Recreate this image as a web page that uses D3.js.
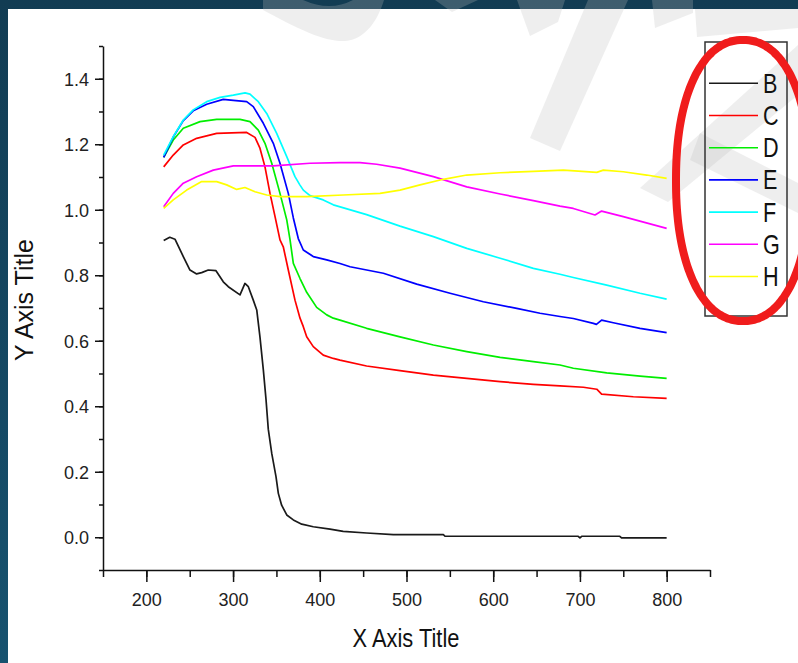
<!DOCTYPE html>
<html><head><meta charset="utf-8">
<script src="https://cdn.jsdelivr.net/npm/d3@7"></script>
<style>html,body{margin:0;padding:0;background:#fff;overflow:hidden} svg{display:block}</style>
</head><body>
<svg id="chart" width="798" height="663"></svg>
<script>
// ---------- data ----------
const seriesNames = ["B", "C", "D", "E", "F", "G", "H"];
const seriesColors = ["#1a1a1a", "#ff0000", "#00ee00", "#0000ff", "#00ffff", "#ff00ff", "#ffff00"];
const xTickValues = [200, 300, 400, 500, 600, 700, 800];
const yTickValues = [0.0, 0.2, 0.4, 0.6, 0.8, 1.0, 1.2, 1.4];
const xAxisTitle = "X Axis Title";
const yAxisTitle = "Y Axis Title";

const B = [[220,0.906],[227,0.916],[233,0.91],[242.6,0.857],[250.3,0.816],[258,0.804],[263.8,0.808],[271.4,0.816],[280.3,0.814],[288.7,0.78],[294.5,0.765],[308,0.74],[313.7,0.775],[317.6,0.765],[323.3,0.724],[327.3,0.694],[331,0.612],[334.9,0.511],[338,0.42],[340.6,0.33],[344.6,0.256],[349.5,0.185],[352.2,0.134],[356,0.098],[361.9,0.068],[369.5,0.053],[379.2,0.04],[392.5,0.032],[411.8,0.025],[427,0.018],[454,0.013],[484.8,0.008],[542.5,0.008],[544.4,0.003],[698,0.003],[700,-0.002],[702,0.003],[746,0.003],[748,-0.002],[800,-0.002]];
const C = [[220,1.131],[231,1.167],[242.6,1.198],[258,1.218],[281.1,1.233],[315.7,1.236],[325.3,1.221],[331,1.188],[336.8,1.131],[342.6,1.05],[348.4,0.979],[354.1,0.908],[357.9,0.887],[363.7,0.816],[371.4,0.724],[377.2,0.669],[381,0.643],[384.9,0.612],[392.5,0.582],[404,0.556],[415.6,0.546],[423.3,0.541],[454,0.523],[492.5,0.509],[531,0.495],[569.5,0.485],[608,0.475],[646.3,0.467],[677,0.462],[704,0.458],[719.4,0.452],[725,0.437],[761.6,0.429],[800,0.424]];
const D = [[220,1.16],[231,1.213],[242.6,1.249],[261.9,1.269],[281.1,1.276],[308,1.276],[319.5,1.269],[329.1,1.243],[336.8,1.203],[344.6,1.142],[354.1,1.05],[361.9,0.969],[365.7,0.908],[369.5,0.836],[377.2,0.79],[384.9,0.748],[396.4,0.702],[408,0.679],[415.6,0.669],[423.3,0.663],[454,0.638],[492.5,0.612],[531,0.587],[569.5,0.567],[608,0.549],[646.3,0.536],[677,0.526],[692.4,0.516],[730.9,0.502],[769.3,0.492],[800,0.485]];
const E = [[220,1.16],[231,1.222],[242.6,1.272],[254,1.302],[269.6,1.322],[288.7,1.337],[300.3,1.334],[315.7,1.33],[323.3,1.315],[334.9,1.264],[346.4,1.203],[354.1,1.142],[363.7,1.05],[369.5,0.975],[375.2,0.912],[381,0.877],[392.5,0.857],[408,0.847],[423.3,0.836],[434.9,0.826],[473.3,0.806],[511.8,0.773],[550.2,0.745],[588.6,0.719],[627.1,0.699],[654,0.684],[677,0.674],[692.4,0.668],[715.5,0.653],[719,0.65],[725,0.663],[738.5,0.655],[769.3,0.638],[800,0.625]];
const F = [[220,1.167],[231,1.223],[242.6,1.274],[254,1.305],[269.6,1.33],[285,1.343],[300.3,1.35],[313.8,1.357],[319.5,1.353],[329.1,1.33],[338.8,1.294],[350.3,1.233],[361.9,1.162],[371.4,1.101],[377,1.076],[381,1.06],[388.7,1.043],[404,1.03],[415.6,1.015],[454,0.985],[492.5,0.95],[531,0.918],[569.5,0.882],[608,0.852],[646.3,0.821],[677,0.803],[692.4,0.793],[730.9,0.77],[769.3,0.745],[800,0.727]];
const G = [[220,1.009],[231,1.05],[242.6,1.081],[258,1.101],[277.2,1.121],[300.3,1.134],[346.4,1.134],[388.7,1.142],[423.3,1.144],[446.4,1.144],[465.6,1.139],[492.5,1.127],[531,1.101],[569.5,1.07],[608,1.048],[646.3,1.028],[677,1.011],[692.4,1.004],[717.4,0.984],[725,0.996],[750,0.979],[800,0.943]];
const H = [[220,1.004],[231,1.03],[246.5,1.06],[263.8,1.086],[281.1,1.086],[292.6,1.076],[304.2,1.062],[313.7,1.068],[325.3,1.055],[338.8,1.045],[354.1,1.04],[384.9,1.04],[427,1.045],[469.5,1.05],[492.5,1.06],[515.6,1.076],[542.5,1.093],[569.5,1.106],[608,1.113],[646.3,1.117],[680.9,1.121],[719.4,1.114],[727,1.121],[750,1.116],[777,1.106],[800,1.096]];
const seriesData = [B, C, D, E, F, G, H];

// ---------- drawing ----------
const svg = d3.select("#chart");
const font = "'Liberation Sans', Arial, sans-serif";

// background frame
const defs = svg.append("defs");
const grad = defs.append("linearGradient").attr("id", "bg").attr("x1", 0).attr("y1", 0).attr("x2", 0).attr("y2", 1);
grad.append("stop").attr("offset", "0%").attr("stop-color", "#123c53");
grad.append("stop").attr("offset", "100%").attr("stop-color", "#17526f");
svg.append("rect").attr("width", 798).attr("height", 663).attr("fill", "url(#bg)");
svg.append("rect").attr("x", 8).attr("y", 9).attr("width", 790).attr("height", 654).attr("fill", "#ffffff");

// faint watermark shapes
const wm = svg.append("g").attr("fill", "rgb(189,189,189)").attr("fill-opacity", 0.26);
[
  "M263,0 L263,10 C300,30 325,42 345,41 C365,40 378,20 384,0 L353,0 Q330,12 303,0 Z",
  "M435,0 L452,12 L478,0 Z",
  "M517,0 L565,0 L558,22 L530,36 Z",
  "M588,0 L628,0 L560,151 L530,138 Z",
  "M652,0 L693,0 L693,13 L655,28 Z",
  "M695,9 L798,9 L798,28 L697,37 Z",
  "M640,188 L668,202 L798,95 L798,45 Z",
  "M700,133 L798,183 L798,213 L690,160 Z"
].forEach(d => wm.append("path").attr("d", d));

const x = d3.scaleLinear().domain([150, 850]).range([103, 710]);
const y = d3.scaleLinear().domain([-0.1, 1.5]).range([570, 46]);

// minor ticks
const xMinor = svg.append("g").attr("transform", "translate(0,570)")
  .call(d3.axisBottom(x).tickValues(d3.range(150, 851, 50)).tickSize(7).tickSizeOuter(0).tickFormat(""));
xMinor.select(".domain").remove();
const yMinor = svg.append("g").attr("transform", "translate(103,0)")
  .call(d3.axisLeft(y).tickValues(d3.range(-1, 16).map(v => v / 10)).tickSize(4).tickSizeOuter(0).tickFormat(""));
yMinor.select(".domain").remove();

// major axes
const xAxis = svg.append("g").attr("transform", "translate(0,570)")
  .call(d3.axisBottom(x).tickValues(xTickValues).tickSize(12).tickSizeOuter(0).tickFormat(d3.format("d")));
const yAxis = svg.append("g").attr("transform", "translate(103,0)")
  .call(d3.axisLeft(y).tickValues(yTickValues).tickSize(8).tickSizeOuter(0).tickFormat(d3.format(".1f")));

[xMinor, yMinor, xAxis, yAxis].forEach(g => {
  g.selectAll("line").attr("stroke", "#111").attr("stroke-width", 1.5);
  g.selectAll(".domain").attr("stroke", "#111").attr("stroke-width", 1.5);
});
xAxis.selectAll("text").attr("font-family", font).attr("font-size", 18).attr("fill", "#222")
  .attr("y", 23).attr("dy", "0.71em");
yAxis.selectAll("text").attr("font-family", font).attr("font-size", 18).attr("fill", "#222")
  .attr("x", -14).attr("dy", "0.35em");

// axis titles
svg.append("text").attr("transform", "translate(406,647) scale(0.84,1)")
  .attr("text-anchor", "middle").attr("font-family", font).attr("font-size", 26).attr("fill", "#111")
  .text(xAxisTitle);
svg.append("text").attr("transform", "translate(33,300) rotate(-90)")
  .attr("text-anchor", "middle").attr("font-family", font).attr("font-size", 25).attr("fill", "#111")
  .text(yAxisTitle);

// series lines
const line = d3.line().x(d => x(d[0])).y(d => y(d[1]));
const plot = svg.append("g").attr("fill", "none").attr("stroke-width", 1.7).attr("stroke-linejoin", "round");
seriesData.forEach((s, i) => {
  plot.append("path").attr("d", line(s)).attr("stroke", seriesColors[i]);
});

// legend
const legend = svg.append("g");
legend.append("rect").attr("x", 705).attr("y", 42).attr("width", 82).attr("height", 274)
  .attr("fill", "none").attr("stroke", "#333").attr("stroke-width", 1.5);
seriesNames.forEach((name, i) => {
  const ly = 83.3 + i * 32.2;
  legend.append("line").attr("x1", 709).attr("x2", 758).attr("y1", ly).attr("y2", ly)
    .attr("stroke", seriesColors[i]).attr("stroke-width", 1.6);
  legend.append("text").attr("transform", `translate(763,${ly + 9.5}) scale(0.8,1)`)
    .attr("font-family", font).attr("font-size", 27).attr("fill", "#111").text(name);
});

// red highlight ellipse (partly beyond the right edge)
const cx = 743, cy = 180.5, ra = 67, rb = 140.5, n = 2.2;
const pts = d3.range(0, 360, 2).map(deg => {
  const t = deg * Math.PI / 180, c = Math.cos(t), s = Math.sin(t);
  return [cx + ra * Math.sign(c) * Math.pow(Math.abs(c), 2 / n),
          cy + rb * Math.sign(s) * Math.pow(Math.abs(s), 2 / n)];
});
svg.append("path").attr("d", d3.line().curve(d3.curveCardinalClosed)(pts))
  .attr("fill", "none").attr("stroke", "#f01c1c").attr("stroke-width", 8);
</script>
</body></html>
